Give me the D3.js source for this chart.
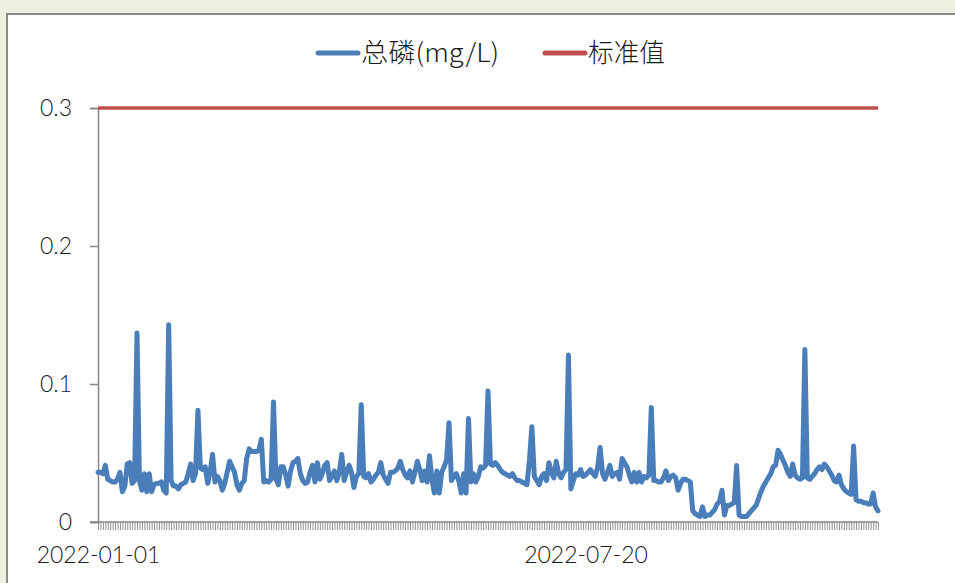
<!DOCTYPE html>
<html>
<head>
<meta charset="utf-8">
<script src="https://cdn.jsdelivr.net/npm/d3@7"></script>
<style>
  html, body { margin: 0; padding: 0; background: #ebf1de; }
  svg { display: block; }
</style>
</head>
<body>
<svg id="chart" width="955" height="583"></svg>
<script>
// Daily total phosphorus readings (mg/L), starting 2022-01-01
const phosphorus = [
  0.036, 0.036, 0.035, 0.041, 0.031, 0.030, 0.029, 0.029, 0.031, 0.036,
  0.022, 0.026, 0.042, 0.043, 0.028, 0.030, 0.137, 0.030, 0.023, 0.035,
  0.022, 0.035, 0.022, 0.027, 0.028, 0.028, 0.029, 0.023, 0.021, 0.143,
  0.030, 0.026, 0.026, 0.024, 0.027, 0.028, 0.029, 0.035, 0.042, 0.030,
  0.035, 0.081, 0.039, 0.038, 0.040, 0.028, 0.036, 0.049, 0.029, 0.033,
  0.030, 0.023, 0.028, 0.036, 0.044, 0.040, 0.036, 0.027, 0.023, 0.028,
  0.030, 0.046, 0.053, 0.051, 0.051, 0.051, 0.052, 0.060, 0.029, 0.030,
  0.029, 0.031, 0.087, 0.031, 0.027, 0.040, 0.040, 0.034, 0.026, 0.037,
  0.043, 0.044, 0.046, 0.035, 0.030, 0.028, 0.029, 0.036, 0.041, 0.029,
  0.043, 0.031, 0.035, 0.041, 0.043, 0.030, 0.033, 0.037, 0.030, 0.036,
  0.049, 0.030, 0.036, 0.041, 0.036, 0.025, 0.033, 0.035, 0.085, 0.033,
  0.032, 0.035, 0.029, 0.031, 0.034, 0.036, 0.043, 0.034, 0.031, 0.028,
  0.036, 0.036, 0.037, 0.039, 0.044, 0.038, 0.034, 0.032, 0.037, 0.029,
  0.036, 0.044, 0.038, 0.030, 0.037, 0.029, 0.048, 0.031, 0.021, 0.037,
  0.021, 0.036, 0.040, 0.045, 0.072, 0.030, 0.033, 0.035, 0.030, 0.021,
  0.035, 0.021, 0.075, 0.029, 0.035, 0.029, 0.033, 0.040, 0.039, 0.041,
  0.095, 0.042, 0.041, 0.043, 0.041, 0.038, 0.036, 0.035, 0.034, 0.033,
  0.035, 0.032, 0.030, 0.030, 0.029, 0.028, 0.027, 0.045, 0.069, 0.033,
  0.030, 0.027, 0.033, 0.035, 0.030, 0.043, 0.036, 0.032, 0.044, 0.035,
  0.032, 0.036, 0.038, 0.121, 0.024, 0.030, 0.035, 0.034, 0.038, 0.033,
  0.034, 0.036, 0.038, 0.035, 0.033, 0.040, 0.054, 0.035, 0.031, 0.036,
  0.041, 0.033, 0.035, 0.036, 0.031, 0.046, 0.043, 0.040, 0.034, 0.029,
  0.036, 0.029, 0.036, 0.029, 0.033, 0.032, 0.034, 0.083, 0.030, 0.030,
  0.029, 0.029, 0.032, 0.037, 0.030, 0.033, 0.034, 0.032, 0.023, 0.028,
  0.031, 0.031, 0.030, 0.029, 0.008, 0.006, 0.005, 0.004, 0.011, 0.004,
  0.005, 0.005, 0.007, 0.009, 0.013, 0.015, 0.023, 0.005, 0.012, 0.012,
  0.013, 0.014, 0.041, 0.005, 0.004, 0.004, 0.004, 0.006, 0.008, 0.010,
  0.012, 0.017, 0.022, 0.026, 0.029, 0.032, 0.035, 0.040, 0.041, 0.052,
  0.049, 0.045, 0.041, 0.036, 0.033, 0.042, 0.034, 0.032, 0.031, 0.032,
  0.125, 0.032, 0.031, 0.033, 0.035, 0.038, 0.040, 0.038, 0.042, 0.040,
  0.037, 0.034, 0.030, 0.029, 0.034, 0.027, 0.024, 0.022, 0.021, 0.020,
  0.055, 0.016, 0.015, 0.015, 0.014, 0.014, 0.013, 0.013, 0.021, 0.011,
  0.008
];
const standardValue = 0.3;
const yTicks = [0, 0.1, 0.2, 0.3];
const yTickLabels = ["0", "0.1", "0.2", "0.3"];
const xLabelIndex = [0, 200];
const xTickLabels = ["2022-01-01", "2022-07-20"];
const seriesNames = ["总磷(mg/L)", "标准值"];

const startDay = new Date(2022, 0, 1);
const categories = phosphorus.map((_, i) => d3.timeFormat("%Y-%m-%d")(d3.timeDay.offset(startDay, i)));

const colors = { tp: "#4a7ebb", std: "#c0504d", axis: "#868686" };
const fontFamily = "Lato, 'Noto Sans', sans-serif";
const cjkFamily = "'Noto Sans CJK SC', 'Noto Sans', sans-serif";

const svg = d3.select("#chart");

// chart frame
svg.append("rect")
  .attr("x", 7).attr("y", 14).attr("width", 970).attr("height", 600)
  .attr("fill", "#ffffff").attr("stroke", "#8a8a8a").attr("stroke-width", 2);

const x = d3.scalePoint().domain(categories).range([98, 878]);
const y = d3.scaleLinear().domain([0, 0.3]).range([522, 108]);

// y axis
const yAxis = svg.append("g").attr("transform", "translate(98,0)")
  .call(d3.axisLeft(y).tickValues(yTicks).tickSize(8).tickPadding(18)
    .tickFormat((d, i) => yTickLabels[i]));
yAxis.select(".domain").attr("stroke", colors.axis).attr("stroke-width", 1.5);
yAxis.selectAll(".tick line").attr("stroke", colors.axis).attr("stroke-width", 1.5);
yAxis.selectAll(".tick text").attr("font-family", fontFamily).attr("font-weight", 300)
  .attr("font-size", 23).attr("fill", "#1a1a1a").attr("dy", "0.34em");

// x axis: one tick per day, labels at fixed intervals
const labelMap = new Map(xLabelIndex.map((idx, k) => [categories[idx], xTickLabels[k]]));
const xAxis = svg.append("g").attr("transform", "translate(0,522)")
  .call(d3.axisBottom(x).tickSize(8).tickPadding(17)
    .tickFormat(d => labelMap.get(d) || ""));
xAxis.select(".domain").remove();
xAxis.selectAll(".tick line").attr("stroke", colors.axis).attr("stroke-width", 0.9);
xAxis.selectAll(".tick text").attr("font-family", fontFamily).attr("font-weight", 300)
  .attr("font-size", 23).attr("fill", "#1a1a1a");
svg.append("line")
  .attr("x1", 90).attr("x2", x(categories[categories.length - 1]))
  .attr("y1", 522).attr("y2", 522)
  .attr("stroke", colors.axis).attr("stroke-width", 1.5);

// standard limit line
svg.append("path")
  .datum(categories)
  .attr("d", d3.line().x(d => x(d)).y(() => y(standardValue)))
  .attr("fill", "none").attr("stroke", colors.std).attr("stroke-width", 3.5);

// total phosphorus series
svg.append("path")
  .datum(phosphorus)
  .attr("d", d3.line().x((d, i) => x(categories[i])).y(d => y(d)))
  .attr("fill", "none").attr("stroke", colors.tp).attr("stroke-width", 5)
  .attr("stroke-linejoin", "round").attr("stroke-linecap", "round");

// legend
const legend = [
  { name: seriesNames[0], color: colors.tp, x: 318, w: 138 },
  { name: seriesNames[1], color: colors.std, x: 545, w: 77 }
];
const lg = svg.append("g");
lg.selectAll("line").data(legend).join("line")
  .attr("x1", d => d.x).attr("x2", d => d.x + 40)
  .attr("y1", 53).attr("y2", 53)
  .attr("stroke", d => d.color).attr("stroke-width", 5).attr("stroke-linecap", "round");
lg.selectAll("text").data(legend).join("text")
  .attr("x", d => d.x + 43).attr("y", 53).attr("dy", "0.36em")
  .attr("font-family", cjkFamily).attr("font-weight", 300).attr("font-size", 26)
  .attr("textLength", d => d.w).attr("lengthAdjust", "spacingAndGlyphs")
  .attr("fill", "#1a1a1a")
  .text(d => d.name);
</script>
</body>
</html>
